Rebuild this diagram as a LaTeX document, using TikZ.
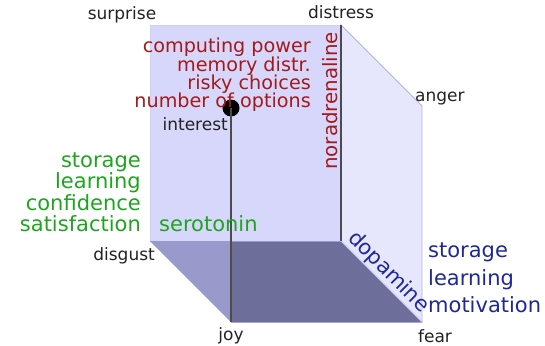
\documentclass[tikz,border=0pt]{standalone}
\usepackage{fontspec}
\setmainfont{DejaVu Sans}
\definecolor{backf}{HTML}{D7D7FC}
\definecolor{rightf}{HTML}{E6E6FD}
\definecolor{botl}{HTML}{9999CC}
\definecolor{botr}{HTML}{6E6E9B}
\definecolor{redt}{RGB}{165,25,25}
\definecolor{greent}{RGB}{30,165,30}
\definecolor{bluet}{RGB}{30,40,150}
\definecolor{labt}{HTML}{222222}
\newcommand{\tightlines}{\lineskiplimit=-20pt\relax}
\begin{document}
\begin{tikzpicture}[x=1pt,y=-1pt,
  lab/.style={inner sep=0pt,text=labt,font=\fontsize{17}{20}\selectfont},
  redlab/.style={inner sep=0pt,text=redt,font=\fontsize{19.2}{18.3}\selectfont\tightlines},
  greenlab/.style={inner sep=0pt,text=greent,font=\fontsize{21}{21.5}\selectfont\tightlines},
  bluelab/.style={inner sep=0pt,text=bluet,font=\fontsize{21}{27.7}\selectfont\tightlines},
  axisline/.style={draw=black!70,line width=1.2pt}]
\useasboundingbox (0,0) rectangle (545,345);
% corners
\coordinate (surprise) at (150,25);
\coordinate (distress) at (341,25);
\coordinate (disgust) at (150,241);
\coordinate (origin) at (341,241);
\coordinate (anger) at (422,106);
\coordinate (fear) at (422,322);
\coordinate (joy) at (231,322);
\coordinate (mid) at (231,241);
% faces
\fill[backf] (surprise) rectangle (origin);
\draw[draw=backf!80!blue!60,line width=0.6pt] (disgust) -- (surprise) -- (distress);
\filldraw[fill=rightf,draw=blue!30!gray!45,line width=0.8pt] (distress) -- (anger) -- (fear) -- (origin) -- cycle;
\fill[botl] (disgust) -- (mid) -- (joy) -- cycle;
\fill[botr] (mid) -- (origin) -- (fear) -- (joy) -- cycle;
\draw[draw=black!40!blue!40,line width=0.8pt] (disgust) -- (origin);
\draw[white!80!blue,line width=0.8pt] (origin) -- (fear);
\draw[black!35!blue!35,line width=0.6pt] (joy) -- (fear);
% axes
\node[circle,fill=black,inner sep=0pt,minimum size=17pt] (interest) at (231,108) {};
\draw[axisline] (interest.center) -- (joy);
\draw[axisline] (distress) -- (origin);
% corner labels
\node[lab,anchor=base] (lsurprise) at (122,19.5) {surprise};
\node[lab,anchor=base] (ldistress) at (341,19) {distress};
\node[lab,anchor=base west] (langer) at (415,101) {anger};
\node[lab,anchor=base east] (ldisgust) at (155,260) {disgust};
\node[lab,anchor=base] (ljoy) at (231,340) {joy};
\node[lab,anchor=base] (lfear) at (435,342) {fear};
\node[lab,anchor=base east] (linterest) at (228,130) {interest};
% red
\node[redlab,anchor=base east,align=right] (redlist) at (311,107.7)
  {computing power\\memory distr.\\risky choices\\number of options};
\node[redlab,font=\fontsize{19.8}{20}\selectfont,anchor=base west,rotate=90] (nor) at (337,170) {noradrenaline};
% green
\node[greenlab,anchor=base east,align=right] (greenlist) at (141,231.7)
  {storage\\learning\\confidence\\satisfaction};
\node[greenlab,anchor=base west] (sero) at (159,231.7) {serotonin};
% blue
\node[bluelab,anchor=base west,align=left] (bluelist) at (428,312.7)
  {storage\\learning\\motivation};
\node[bluelab,anchor=base west,rotate=-45] (dopa) at (347,239) {dopamine};
\end{tikzpicture}
\end{document}
